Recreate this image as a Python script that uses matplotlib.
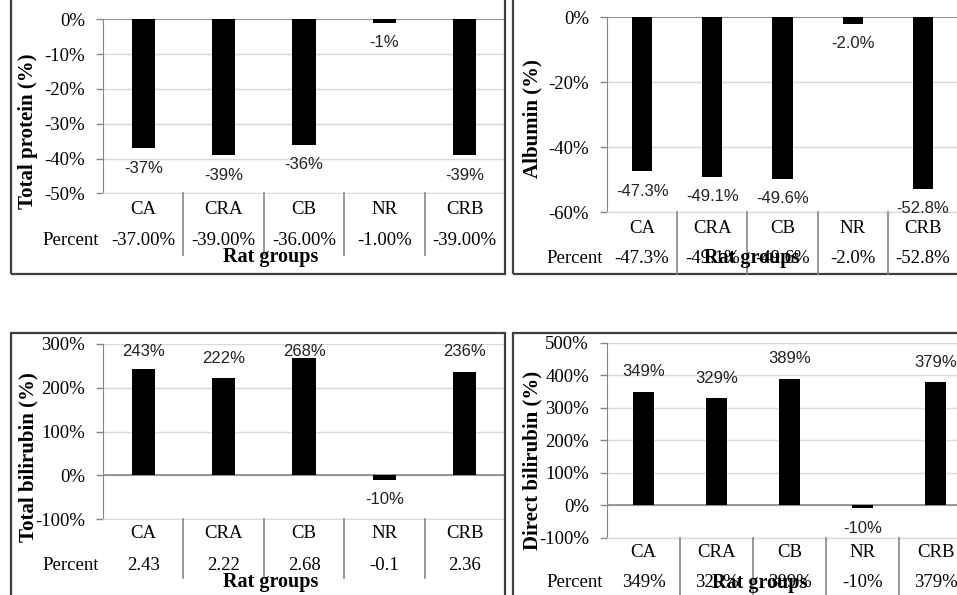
import matplotlib
matplotlib.use("Agg")
import matplotlib.pyplot as plt
from matplotlib.patches import Rectangle
from matplotlib.ticker import PercentFormatter
from matplotlib.transforms import offset_copy

W, H = 957, 595
DPI = 100

SERIF = "Liberation Serif"
SANS = "Liberation Sans"
GRID = "#d9d9d9"
AXIS = "#868686"
FRAME = "#3f3f3f"

plt.rcParams["axes.unicode_minus"] = False

groups = ["CA", "CRA", "CB", "NR", "CRB"]

# change versus normal control, in percent
protein = [-37, -39, -36, -1, -39]
albumin = [-47.3, -49.1, -49.6, -2.0, -52.8]
total_bili = [243, 222, 268, -10, 236]
direct_bili = [349, 329, 389, -10, 379]

protein_ticks = [0, -10, -20, -30, -40, -50]
albumin_ticks = [0, -20, -40, -60]
total_ticks = [300, 200, 100, 0, -100]
direct_ticks = [500, 400, 300, 200, 100, 0, -100]

fig = plt.figure(figsize=(W / DPI, H / DPI), dpi=DPI)


def px_axes(left, right, top, bottom):
    return fig.add_axes([left / W, 1 - bottom / H, (right - left) / W, (bottom - top) / H])


def frame(left, right, top, bottom):
    fig.add_artist(Rectangle((left / W, 1 - bottom / H), (right - left) / W, (bottom - top) / H,
                             transform=fig.transFigure, fill=False, ec=FRAME, lw=1.6))


def panel(rect, values, ticks, ylabel, ylabel_xy, bar_fmt, table_fmt,
          cat_dy, pct_dy, div_dy, rat_xy):
    left, right, top, bottom = rect
    ax = px_axes(left, right, top, bottom)
    ymin, ymax = min(ticks), max(ticks)
    ax.set_xlim(-0.5, len(groups) - 0.5)
    ax.set_ylim(ymin, ymax)
    ax.bar(range(len(groups)), values, width=0.29, color="black", zorder=3)

    ax.set_yticks(ticks)
    ax.yaxis.set_major_formatter(PercentFormatter(decimals=0))
    ax.tick_params(axis="y", length=5, width=1, color=AXIS, pad=8, labelsize=13.5)
    for t in ax.get_yticklabels():
        t.set_fontfamily(SERIF)
    ax.set_xticks([])
    ax.grid(axis="y", color=GRID, lw=1, zorder=0)
    ax.axhline(0, color=AXIS, lw=1.2, zorder=2)
    for s in ("top", "right"):
        ax.spines[s].set_visible(False)
    ax.spines["bottom"].set_color(GRID)
    ax.spines["left"].set_color(AXIS)

    # value labels sit ~20 px past the end of each bar, kept inside the plot
    scale = (bottom - top) / (ymax - ymin)
    for i, v in enumerate(values):
        off = 20 / scale
        y = v + off if v >= 0 else v - off
        y = min(y, ymax - 7 / scale)
        ax.text(i, y, bar_fmt(v), ha="center", va="center", fontsize=12,
                family=SANS, color="#222222", zorder=4)

    # data table under the axis
    xtr = ax.get_xaxis_transform()
    for i, v in enumerate(values):
        ax.text(i, 0, groups[i], transform=offset_copy(xtr, fig=fig, y=-cat_dy, units="dots"),
                ha="center", va="center", fontsize=13.5, family=SERIF, clip_on=False)
        ax.text(i, 0, table_fmt(v), transform=offset_copy(xtr, fig=fig, y=-pct_dy, units="dots"),
                ha="center", va="center", fontsize=13.5, family=SERIF, clip_on=False)
    ax.text(0, 0, "Percent", transform=offset_copy(ax.transAxes, fig=fig, x=-4, y=-pct_dy, units="dots"),
            ha="right", va="center", fontsize=13.5, family=SERIF, clip_on=False)
    for i in range(1, len(groups)):
        x = (left + (right - left) * i / len(groups)) / W
        fig.add_artist(plt.Line2D([x, x], [1 - bottom / H, 1 - (bottom + div_dy) / H],
                                  color=AXIS, lw=1.2, transform=fig.transFigure))

    fig.text(rat_xy[0] / W, 1 - rat_xy[1] / H, "Rat groups", ha="center", va="center",
             fontsize=14.5, fontweight="bold", family=SERIF)
    fig.text(ylabel_xy[0] / W, 1 - ylabel_xy[1] / H, ylabel, rotation=90, ha="center",
             va="center", fontsize=15, fontweight="bold", family=SERIF)
    return ax


frame(11, 505, -10, 274)
frame(513, 990, -10, 274)
frame(11, 505, 333, 640)
frame(513, 990, 333, 640)

panel((103, 505, 19.3, 193.3), protein, protein_ticks, "Total protein (%)", (28, 131),
      lambda v: f"{v:.0f}%", lambda v: f"{v:.2f}%", 16, 47, 62, (271, 257))
panel((607, 958, 17.3, 212.3), albumin, albumin_ticks, "Albumin (%)", (532, 119),
      lambda v: f"{v:.1f}%", lambda v: f"{v:.1f}%", 16, 46, 62, (752, 258))
panel((103, 505, 344, 519), total_bili, total_ticks, "Total bilirubin (%)", (28, 457),
      lambda v: f"{v:.0f}%", lambda v: f"{v / 100:g}", 15, 46, 59, (271, 582))
panel((607, 972, 342.7, 537.7), direct_bili, direct_ticks, "Direct bilirubin (%)", (532, 460),
      lambda v: f"{v:.0f}%", lambda v: f"{v:.0f}%", 15, 45, 70, (760, 583))

fig.savefig("out.png", dpi=DPI)
